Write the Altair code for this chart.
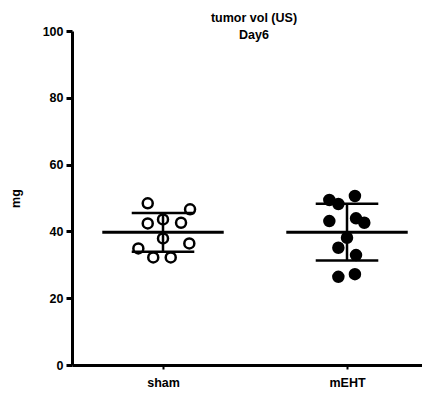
import json
import altair as alt
import pandas as pd

groups = ["sham", "mEHT"]
sham_values = [48.4, 46.6, 43.6, 42.4, 42.6, 37.9, 36.4, 34.9, 32.2, 32.2]
sham_jitter = [-0.083, 0.147, 0.0, -0.083, 0.098, 0.0, 0.143, -0.134, -0.053, 0.042]
meht_values = [49.4, 48.2, 50.6, 43.1, 43.9, 42.6, 38.1, 35.1, 32.9, 26.4, 27.2]
meht_jitter = [-0.096, -0.047, 0.043, -0.096, 0.049, 0.094, 0.0, -0.047, 0.049, -0.047, 0.043]
y_ticks = [0, 20, 40, 60, 80, 100]
title_lines = ["tumor vol (US)", "Day6"]
y_title = "mg"

rows = []
for i, (vals, jit) in enumerate([(sham_values, sham_jitter), (meht_values, meht_jitter)]):
    for v, j in zip(vals, jit):
        rows.append({"group": groups[i], "idx": i, "value": v, "xpos": i + j})
df = pd.DataFrame(rows)

FONT = "Liberation Sans"
PLOT_W = 350
PLOT_H = 334
xscale = alt.Scale(domain=[-0.4946, PLOT_W / 184 - 0.4946], nice=False, zero=False)
yscale = alt.Scale(domain=[0, 100], nice=False)

xaxis = alt.Axis(
    values=[0, 1],
    labelExpr=f"{json.dumps(groups)}[datum.value]",
    title=None, grid=False, domainColor="black", domainWidth=3,
    tickColor="black", tickWidth=2, tickSize=4, labelPadding=7,
    labelFont=FONT, labelFontSize=12.5, labelFontWeight="bold", labelColor="black",
)
yaxis = alt.Axis(
    values=y_ticks, title=y_title, grid=False, domainColor="black", domainWidth=3,
    tickColor="black", tickWidth=3, tickSize=6, labelPadding=3,
    labelFont=FONT, labelFontSize=12.5, labelFontWeight="bold", labelColor="black",
    titleFont=FONT, titleFontSize=12.5, titleFontWeight="bold", titleColor="black",
    titleX=-57, titleY=PLOT_H / 2, titleAngle=270, titleAlign="center", titleBaseline="middle",
)

base = alt.Chart(df)

points = base.mark_point(shape="circle", size=100, strokeWidth=2.5, stroke="black", opacity=1).encode(
    x=alt.X("xpos:Q", scale=xscale, axis=xaxis),
    y=alt.Y("value:Q", scale=yscale, axis=yaxis),
    fill=alt.Fill("group:N", scale=alt.Scale(domain=groups, range=["transparent", "black"]), legend=None),
)

stats = base.transform_aggregate(
    mean="mean(value)", sd="stdev(value)", groupby=["idx"]
).transform_calculate(
    lo="datum.mean - datum.sd", hi="datum.mean + datum.sd",
    m1="datum.idx - 0.33", m2="datum.idx + 0.33",
    c1="datum.idx - 0.17", c2="datum.idx + 0.17",
)

mean_rule = stats.mark_rule(color="black", strokeWidth=3).encode(
    x=alt.X("m1:Q", scale=xscale), x2="m2:Q", y=alt.Y("mean:Q", scale=yscale)
)
cap_hi = stats.mark_rule(color="black", strokeWidth=2.5).encode(
    x=alt.X("c1:Q", scale=xscale), x2="c2:Q", y=alt.Y("hi:Q", scale=yscale)
)
cap_lo = stats.mark_rule(color="black", strokeWidth=2.5).encode(
    x=alt.X("c1:Q", scale=xscale), x2="c2:Q", y=alt.Y("lo:Q", scale=yscale)
)
vert = stats.mark_rule(color="black", strokeWidth=2.5).encode(
    x=alt.X("idx:Q", scale=xscale), y=alt.Y("lo:Q", scale=yscale), y2="hi:Q"
)

chart = alt.layer(points, mean_rule, cap_hi, cap_lo, vert).properties(
    width=PLOT_W, height=PLOT_H,
    autosize=alt.AutoSizeParams(type="none"),
    padding={"left": 64, "top": 23, "right": 0, "bottom": 23},
    background="white",
    title=alt.TitleParams(
        text=title_lines, font=FONT, fontSize=12.5, fontWeight="bold", color="black",
        anchor="middle", offset=-16, lineHeight=17, dx=7,
    ),
).configure_view(stroke=None)

chart.save("out.html", embed_options={"renderer": "svg", "actions": False})
